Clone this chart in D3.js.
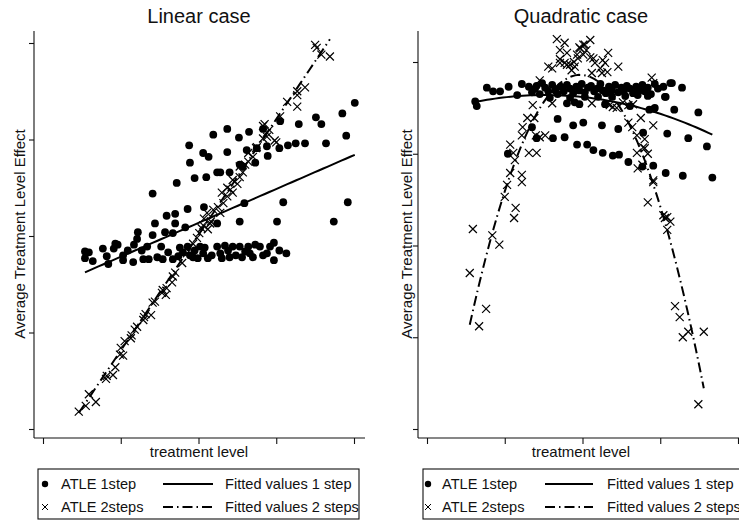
<!DOCTYPE html>
<html>
<head>
<meta charset="utf-8">
<script src="https://d3js.org/d3.v7.min.js"></script>
<style>
  body { margin: 0; background: #fff; }
  svg { display: block; font-family: "Liberation Sans", Arial, Helvetica, sans-serif; }
</style>
</head>
<body>
<svg id="chart" width="739" height="521"></svg>
<script>
// ---- data (treatment level / effect in tick units) ----
const titles = ['Linear case', 'Quadratic case']
const xLabel = 'treatment level'
const yLabel = 'Average Treatment Level Effect'
const legendLabels = ['ATLE 1step', 'ATLE 2steps', 'Fitted values 1 step', 'Fitted values 2 steps']
const xTicks = [0, 1, 2, 3, 4]
const yTicks = [0, 1, 2, 3, 4]

// linear case, 1 step
const linear1step = [
  [0.54,1.84],[0.59,1.83],[0.54,1.77],[0.64,1.74],[0.77,1.87],[0.82,1.79],[0.84,1.71],[0.93,1.92],
  [0.96,1.91],[0.91,1.87],[1.03,1.75],[1.03,1.80],[1.09,1.85],[1.16,1.73],[1.17,1.91],[1.21,1.97],
  [1.22,2.04],[1.27,1.85],[1.29,1.76],[1.34,1.89],[1.36,1.76],[1.41,2.01],[1.44,2.13],[1.47,1.78],
  [1.52,1.89],[1.54,1.76],[1.57,2.04],[1.61,1.83],[1.67,2.03],[1.70,2.13],[1.67,1.76],[1.76,1.88],
  [1.83,2.09],[1.86,1.89],[1.93,1.78],[1.95,1.85],[2.02,1.89],[2.06,1.82],[2.12,1.77],[2.24,1.89],
  [2.30,1.77],[2.24,2.13],[2.28,1.82],[2.34,1.90],[2.40,1.78],[2.44,1.89],[2.53,2.15],[2.53,1.89],
  [2.56,1.78],[2.64,1.89],[2.70,1.78],[2.73,1.91],[2.79,1.89],[2.88,1.82],[2.97,1.93],[2.97,1.75],
  [3.01,2.15],[3.13,1.82],[3.74,2.15],[1.74,1.79],[1.80,1.83],[1.89,1.80],[1.99,1.77],[2.08,1.88],
  [2.17,1.80],[2.38,1.85],[2.48,1.80],[2.60,1.84],[2.66,1.82],[2.83,1.80],[2.92,1.89],[3.04,1.85],
  [2.19,3.05],[1.88,2.94],[2.06,2.86],[2.13,2.82],[1.89,2.76],[2.24,2.66],[1.95,2.60],[2.10,2.61],
  [1.72,2.55],[1.41,2.44],[1.86,2.28],[2.07,2.30],[1.59,2.21],[1.70,2.23],[4.01,3.38],[3.85,3.27],
  [3.51,3.23],[3.58,3.16],[3.29,3.16],[3.05,3.19],[2.37,3.11],[2.65,3.08],[2.52,3.02],[2.83,3.11],
  [3.90,3.04],[3.64,2.96],[3.37,2.96],[3.25,2.96],[3.15,2.94],[3.04,2.91],[2.88,2.93],[2.37,2.87],
  [2.62,2.89],[2.75,2.91],[2.89,2.83],[2.73,2.76],[2.53,2.74],[2.57,2.72],[2.28,2.66],[2.40,2.66],
  [2.59,2.34],[3.09,2.35],[3.92,2.35]
]

// linear case, 2 steps
const linear2steps = [
  [0.46,0.18],[0.55,0.24],[0.59,0.36],[0.68,0.28],[0.81,0.52],[0.82,0.55],[0.90,0.56],[0.93,0.64],
  [0.99,0.77],[1.03,0.76],[1.00,0.84],[1.05,0.91],[1.13,0.94],[1.14,0.97],[1.18,1.03],[1.21,1.06],
  [1.29,1.13],[1.30,1.16],[1.32,1.19],[1.39,1.18],[1.41,1.31],[1.44,1.32],[1.53,1.41],[1.54,1.44],
  [1.58,1.39],[1.59,1.46],[1.66,1.52],[1.67,1.58],[1.70,1.62],[1.79,1.72],[1.85,1.82],[1.93,1.92],
  [1.98,1.98],[2.01,2.03],[2.04,2.08],[2.06,2.11],[2.12,2.07],[2.15,2.13],[2.19,2.27],[2.11,2.24],
  [2.07,2.18],[2.16,2.15],[2.28,2.24],[2.32,2.34],[2.25,2.30],[2.37,2.41],[2.30,2.45],[2.41,2.48],
  [2.44,2.45],[2.37,2.50],[2.50,2.54],[2.44,2.58],[2.53,2.61],[2.57,2.66],[2.53,2.72],[2.60,2.74],
  [2.64,2.77],[2.64,2.86],[2.70,2.82],[2.74,2.91],[2.75,2.92],[2.83,3.01],[2.88,3.07],[2.83,3.14],
  [2.91,3.10],[2.88,3.03],[2.98,2.99],[3.00,2.97],[2.85,3.16],[3.05,3.24],[3.14,3.39],[3.27,3.34],
  [3.27,3.46],[3.27,3.50],[3.37,3.54],[3.50,3.98],[3.58,3.88],[3.69,3.86],[3.52,3.95]
]

// quadratic case, 1 step
const quad1step = [
  [0.62,3.57],[0.64,3.52],[0.77,3.72],[0.85,3.68],[0.94,3.68],[1.05,3.73],[1.16,3.64],[1.22,3.76],
  [1.31,3.73],[1.41,3.74],[1.48,3.77],[1.35,3.67],[1.39,3.71],[1.45,3.65],[1.52,3.72],[1.56,3.68],
  [1.61,3.75],[1.65,3.69],[1.68,3.65],[1.72,3.73],[1.76,3.68],[1.80,3.75],[1.84,3.71],[1.88,3.66],
  [1.92,3.73],[1.96,3.69],[1.99,3.76],[2.03,3.67],[2.07,3.72],[2.11,3.74],[2.15,3.68],[2.19,3.71],
  [2.23,3.76],[2.26,3.69],[2.30,3.66],[2.34,3.73],[2.38,3.69],[2.42,3.75],[2.46,3.67],[2.50,3.72],
  [2.53,3.68],[2.57,3.74],[2.61,3.71],[2.65,3.66],[2.69,3.73],[2.73,3.69],[2.77,3.75],[2.80,3.68],
  [2.84,3.72],[2.88,3.65],[2.93,3.76],[2.97,3.71],[3.04,3.73],[3.13,3.77],[3.28,3.72],[3.07,3.62],
  [2.84,3.63],[2.71,3.64],[2.55,3.63],[2.38,3.62],[2.20,3.62],[2.03,3.62],[1.84,3.61],[1.58,3.61],
  [3.15,3.77],[3.06,3.62],
  [1.80,3.55],[1.90,3.56],[2.29,3.54],[2.61,3.52],[2.86,3.48],[2.92,3.49],[3.18,3.48],[3.49,3.45],
  [2.93,3.50],[1.96,3.54],
  [1.68,3.38],[1.88,3.31],[2.01,3.34],[2.25,3.31],[2.46,3.27],[2.78,3.23],[3.09,3.22],[3.36,3.17],
  [3.60,3.08],
  [1.35,3.29],[1.41,3.17],[1.62,3.17],[1.77,3.18],[1.93,3.10],[2.06,3.10],[2.14,3.04],[2.26,3.01],
  [2.39,2.98],[2.47,2.99],[2.59,2.91],[2.77,2.86],[2.91,2.87],[3.07,2.79],[3.29,2.76],[3.67,2.74],
  [1.04,3.00]
]

// quadratic case, 2 steps
const quad2steps = [
  [1.67,4.25],[1.77,4.21],[1.71,4.13],[1.96,4.16],[2.01,4.19],[2.10,4.24],[2.05,4.13],[1.93,4.08],
  [1.94,4.04],[2.01,4.08],[1.71,4.03],[1.77,3.99],[1.84,3.97],[1.86,3.91],[1.56,3.95],[1.61,3.93],
  [2.14,4.04],[2.16,3.99],[2.26,4.02],[2.33,4.10],[2.29,3.99],[2.46,3.95],[2.23,3.93],[2.12,3.88],
  [2.32,3.89],[1.89,4.00],[1.90,3.95],[1.80,4.10],[2.03,4.19],[1.97,4.15],[2.10,4.05],[2.25,3.88],
  [1.80,3.97],[1.71,3.99],
  [1.45,3.80],[2.89,3.83],[2.91,3.77],[1.61,3.55],[2.12,3.55],[1.36,3.53],[2.35,3.53],[2.44,3.50],
  [2.32,3.55],[2.39,3.51],[2.52,3.56],[2.59,3.53],[2.65,3.54],
  [1.29,3.39],[1.38,3.39],[1.23,3.29],[1.22,3.20],[1.52,3.20],[1.40,3.20],[1.45,3.18],[1.07,3.10],
  [1.13,2.93],[1.11,3.01],[1.31,3.01],[1.41,3.01],[1.07,2.79],[1.22,2.77],[1.22,2.69],[1.03,2.66],
  [1.00,2.53],[1.14,2.41],[1.12,2.30],[0.59,2.18],[0.84,2.11],[0.93,2.01],[0.55,1.70],[0.76,1.31],
  [0.67,1.12],
  [2.59,3.34],[2.75,3.39],[2.91,3.31],[2.64,3.29],[2.70,3.20],[2.80,3.16],[2.78,3.07],[2.70,3.01],
  [2.84,3.00],[2.80,3.06],[2.77,2.88],[2.71,2.84],[2.91,2.71],[2.91,2.69],[2.84,2.47],[3.04,2.33],
  [3.09,2.31],[3.13,2.26],[3.06,2.30],[3.09,2.17],[3.19,1.34],[3.25,1.22],[3.36,1.06],[3.29,1.00],
  [3.56,1.06],[3.49,0.27]
]

// fitted values: a + b*x + c*x^2, drawn over the range of each series
const linearFit1 = [1.434, 0.351, 0]
const linearFit2 = [-0.386, 1.199, 0]
const quadFit1 = [3.424, 0.284, -0.0934]
const quadFit2 = [-1.383, 5.323, -1.351]

// ---- layout ----
const panels = [
  { title: titles[0], dots: linear1step, crosses: linear2steps, fit1: linearFit1, fit2: linearFit2,
    axisX: 34, xRange: [43, 354], yRange: [429, 43], axisEnd: 365, midX: 199, ylabX: 25,
    leg: { x: 38, w: 321, bullet: 7, text: 23, l1: 125, l2: 175, ftext: 187 } },
  { title: titles[1], dots: quad1step, crosses: quad2steps, fit1: quadFit1, fit2: quadFit2,
    axisX: 418, xRange: [427, 738], yRange: [429, 62], axisEnd: 745, midX: 581, ylabX: 412,
    leg: { x: 423, w: 330, bullet: 5, text: 19, l1: 122, l2: 170, ftext: 184 } }
]

const axisTop = 31
const axisBottom = 438
const ink = '#111'
const dashDot = '10,4,1.5,4'

const svg = d3.select('#chart')

const fitValue = (c, x) => c[0] + c[1] * x + c[2] * x * x

const crossPath = (cx, cy, s) =>
  'M' + (cx - s) + ',' + (cy - s) + 'L' + (cx + s) + ',' + (cy + s) +
  'M' + (cx - s) + ',' + (cy + s) + 'L' + (cx + s) + ',' + (cy - s)

const drawPanel = (p) => {
  const g = svg.append('g')
  const x = d3.scaleLinear().domain([0, 4]).range(p.xRange)
  const y = d3.scaleLinear().domain([0, 4]).range(p.yRange)

  // title
  g.append('text')
    .attr('x', p.midX).attr('y', 23)
    .attr('text-anchor', 'middle')
    .attr('font-size', 20)
    .attr('fill', ink)
    .text(p.title)

  // axis lines
  g.append('line')
    .attr('x1', p.axisX).attr('x2', p.axisX)
    .attr('y1', axisTop).attr('y2', axisBottom)
    .attr('stroke', ink).attr('stroke-width', 1.1)
  g.append('line')
    .attr('x1', p.axisX).attr('x2', p.axisEnd)
    .attr('y1', axisBottom).attr('y2', axisBottom)
    .attr('stroke', ink).attr('stroke-width', 1.1)

  // ticks, no labels
  const yAxis = g.append('g')
    .attr('transform', 'translate(' + p.axisX + ',0)')
    .call(d3.axisLeft(y).tickValues(yTicks).tickSize(5).tickFormat(''))
  const xAxis = g.append('g')
    .attr('transform', 'translate(0,' + axisBottom + ')')
    .call(d3.axisBottom(x).tickValues(xTicks).tickSize(6).tickFormat(''))
  yAxis.select('.domain').remove()
  xAxis.select('.domain').remove()
  g.selectAll('.tick line').attr('stroke', ink).attr('stroke-width', 1.1)

  // axis titles
  g.append('text')
    .attr('transform', 'translate(' + p.ylabX + ',234) rotate(-90)')
    .attr('text-anchor', 'middle')
    .attr('font-size', 15)
    .attr('fill', ink)
    .text(yLabel)
  g.append('text')
    .attr('x', p.midX).attr('y', 457)
    .attr('text-anchor', 'middle')
    .attr('font-size', 15)
    .attr('fill', ink)
    .text(xLabel)

  // 1 step: filled dots
  g.append('g').selectAll('circle')
    .data(p.dots)
    .enter()
    .append('circle')
    .attr('cx', d => x(d[0]))
    .attr('cy', d => y(d[1]))
    .attr('r', 3.9)
    .attr('fill', '#000')

  // 2 steps: crosses
  g.append('g').selectAll('path')
    .data(p.crosses)
    .enter()
    .append('path')
    .attr('d', d => crossPath(x(d[0]), y(d[1]), 4))
    .attr('stroke', '#000')
    .attr('stroke-width', 1.2)
    .attr('fill', 'none')

  // fitted curves
  const line = d3.line().x(d => x(d[0])).y(d => y(d[1]))
  const curve = (coef, pts) => {
    const [lo, hi] = d3.extent(pts, d => d[0])
    return d3.range(0, 61).map(i => {
      const xv = lo + (hi - lo) * i / 60
      return [xv, fitValue(coef, xv)]
    })
  }
  g.append('path')
    .attr('d', line(curve(p.fit1, p.dots)))
    .attr('fill', 'none').attr('stroke', '#000').attr('stroke-width', 2)
  g.append('path')
    .attr('d', line(curve(p.fit2, p.crosses)))
    .attr('fill', 'none').attr('stroke', '#000').attr('stroke-width', 2)
    .attr('stroke-dasharray', dashDot)

  // legend
  const L = p.leg
  const lg = g.append('g')
  lg.append('rect')
    .attr('x', L.x).attr('y', 469).attr('width', L.w).attr('height', 50)
    .attr('fill', 'none').attr('stroke', ink).attr('stroke-width', 1.1)
  const rows = [484, 507]
  const bx = L.x + L.bullet
  lg.append('circle')
    .attr('cx', bx).attr('cy', rows[0]).attr('r', 3.2).attr('fill', '#000')
  lg.append('path')
    .attr('d', crossPath(bx, rows[1], 3))
    .attr('stroke', '#000').attr('stroke-width', 1)
  lg.append('line')
    .attr('x1', L.x + L.l1).attr('x2', L.x + L.l2).attr('y1', rows[0]).attr('y2', rows[0])
    .attr('stroke', '#000').attr('stroke-width', 2)
  lg.append('line')
    .attr('x1', L.x + L.l1).attr('x2', L.x + L.l2).attr('y1', rows[1]).attr('y2', rows[1])
    .attr('stroke', '#000').attr('stroke-width', 2).attr('stroke-dasharray', dashDot)
  const labelPos = [[L.text, rows[0]], [L.text, rows[1]], [L.ftext, rows[0]], [L.ftext, rows[1]]]
  legendLabels.forEach((t, i) => {
    lg.append('text')
      .attr('x', L.x + labelPos[i][0]).attr('y', labelPos[i][1] + 5)
      .attr('font-size', 14.6)
      .attr('fill', ink)
      .text(t)
  })
}

panels.forEach(drawPanel)
</script>
</body>
</html>
